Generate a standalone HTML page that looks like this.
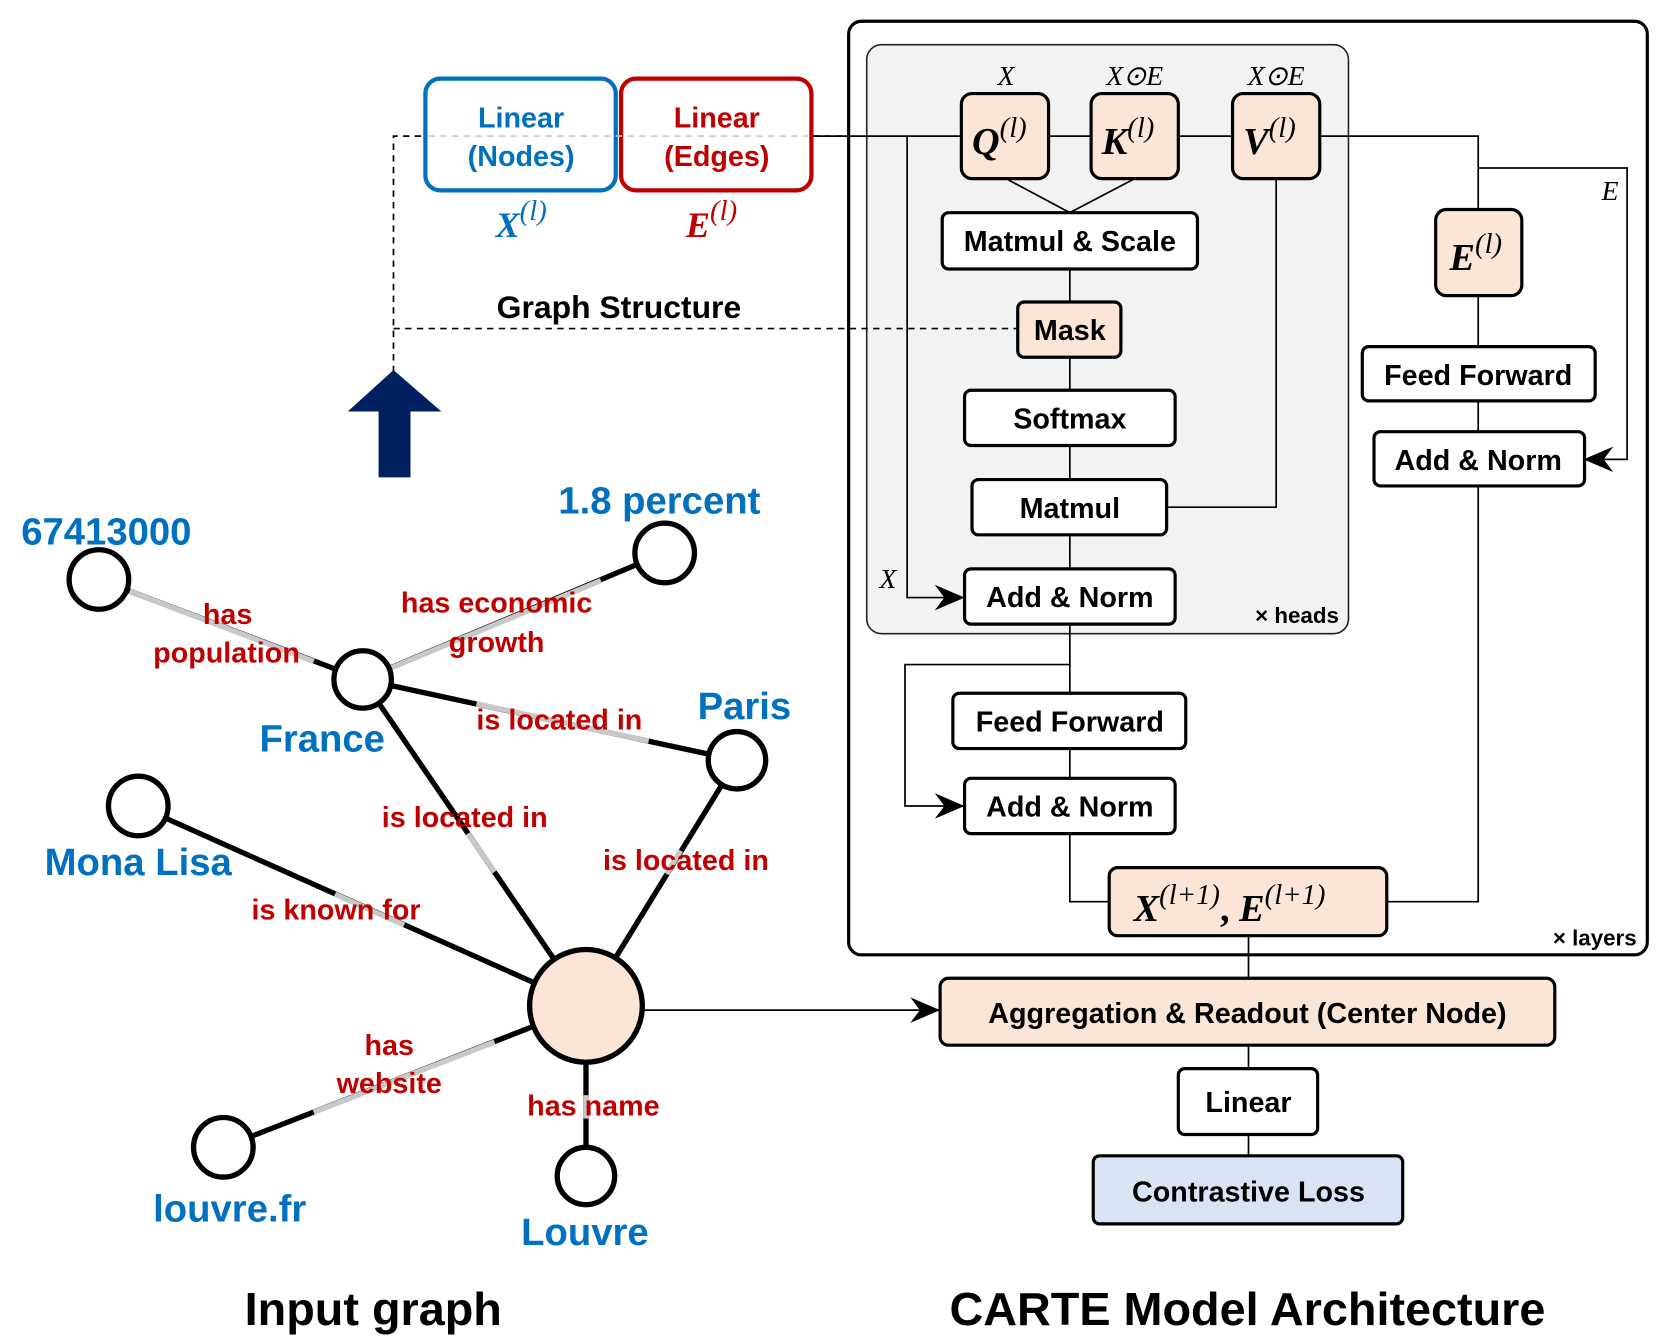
<!DOCTYPE html>
<html><head><meta charset="utf-8"><style>html,body{margin:0;padding:0;background:#fff}svg{display:block}</style></head><body>
<svg xmlns="http://www.w3.org/2000/svg" width="1659" height="1344" viewBox="0 0 1560 1264" preserveAspectRatio="none" font-family="Liberation Sans, sans-serif">
<defs>
<marker id="ar" viewBox="0 0 28 24" refX="27" refY="12" markerWidth="28" markerHeight="24" markerUnits="userSpaceOnUse" orient="auto"><path d="M0,0 L28,12 L0,24 L9,12 z" fill="#000"/></marker>
</defs>
<rect x="798" y="20" width="751" height="878" rx="12" fill="#fff" stroke="#000" stroke-width="3"/>
<rect x="815" y="42" width="453" height="554" rx="14" fill="#f2f2f2" stroke="#222" stroke-width="1.5"/>
<g stroke="#000" stroke-width="1.6" fill="none">
<line x1="764" y1="128" x2="904" y2="128"/>
<line x1="986" y1="128" x2="1026" y2="128"/>
<line x1="1108" y1="128" x2="1159" y2="128"/>
<polyline points="1241,128 1390,128 1390,197"/>
<polyline points="1390,158 1530,158 1530,432 1490,432" marker-end="url(#ar)"/>
<polyline points="853,128 853,562 906,562" marker-end="url(#ar)"/>
<polyline points="946,168 1006,200 1067,168"/>
<line x1="1006" y1="253" x2="1006" y2="535"/>
<polyline points="1200,168 1200,477 1097,477"/>
<line x1="1006" y1="587" x2="1006" y2="652"/>
<polyline points="1006,625 851,625 851,758 906,758" marker-end="url(#ar)"/>
<line x1="1006" y1="704" x2="1006" y2="732"/>
<polyline points="1006,784 1006,848 1043,848"/>
<polyline points="1304,848 1390,848 1390,457"/>
<line x1="1390" y1="278" x2="1390" y2="406"/>
<line x1="1174" y1="880" x2="1174" y2="920"/>
<line x1="1174" y1="983" x2="1174" y2="1087"/>
<line x1="605" y1="950" x2="883" y2="950" marker-end="url(#ar)"/>
</g>
<g stroke="#000" stroke-width="1.6" fill="none" stroke-dasharray="6,5">
<polyline points="370,350 370,128 400,128"/>
<line x1="764" y1="128" x2="800" y2="128"/>
<polyline points="370,309 957,309"/>
</g>
<line x1="580" y1="128" x2="584" y2="128" stroke="#000" stroke-width="1.6"/>
<rect x="400" y="74" width="179" height="105" rx="14" fill="#fff" stroke="#0070c0" stroke-width="4"/>
<rect x="584" y="74" width="179" height="105" rx="14" fill="#fff" stroke="#c00000" stroke-width="4"/>
<line x1="403" y1="128" x2="760" y2="128" stroke="#c8c8c8" stroke-width="1.5" stroke-dasharray="6,5"/>
<g font-weight="bold" font-size="27" text-anchor="middle">
<text x="490" y="120" fill="#0070c0">Linear</text>
<text x="490" y="156" fill="#0070c0">(Nodes)</text>
<text x="674" y="120" fill="#c00000">Linear</text>
<text x="674" y="156" fill="#c00000">(Edges)</text>
</g>
<text x="466" y="223" font-family="Liberation Serif, serif" font-style="italic" font-weight="bold" font-size="34" fill="#0070c0">X<tspan font-size="27" dy="-16" font-weight="normal">(l)</tspan></text>
<text x="645" y="223" font-family="Liberation Serif, serif" font-style="italic" font-weight="bold" font-size="34" fill="#c00000">E<tspan font-size="27" dy="-16" font-weight="normal">(l)</tspan></text>
<text x="582" y="299" font-weight="bold" font-size="30" text-anchor="middle">Graph Structure</text>
<polygon points="370,348 415,387 386,387 386,449 356,449 356,387 327,387" fill="#002060"/>
<g stroke="#000" stroke-width="3">
<rect x="904" y="88" width="82" height="80" rx="10" fill="#fbe5d6"/>
<rect x="1026" y="88" width="82" height="80" rx="10" fill="#fbe5d6"/>
<rect x="1159" y="88" width="82" height="80" rx="10" fill="#fbe5d6"/>
<rect x="886" y="200" width="240" height="53" rx="6" fill="#fff"/>
<rect x="957" y="284" width="97" height="52" rx="6" fill="#fbe5d6"/>
<rect x="907" y="367" width="198" height="52" rx="6" fill="#fff"/>
<rect x="914" y="451" width="183" height="52" rx="6" fill="#fff"/>
<rect x="907" y="535" width="198" height="52" rx="6" fill="#fff"/>
<rect x="896" y="652" width="219" height="52" rx="6" fill="#fff"/>
<rect x="907" y="732" width="198" height="52" rx="6" fill="#fff"/>
<rect x="1043" y="816" width="261" height="64" rx="8" fill="#fbe5d6"/>
<rect x="1350" y="197" width="81" height="81" rx="10" fill="#fbe5d6"/>
<rect x="1281" y="326" width="219" height="51" rx="6" fill="#fff"/>
<rect x="1292" y="406" width="198" height="51" rx="6" fill="#fff"/>
<rect x="884" y="920" width="578" height="63" rx="8" fill="#fbe5d6"/>
<rect x="1108" y="1005" width="131" height="62" rx="6" fill="#fff"/>
<rect x="1028" y="1087" width="291" height="64" rx="6" fill="#dae3f3"/>
</g>
<g font-family="Liberation Serif, serif" font-style="italic" font-weight="bold" font-size="36">
<text x="914" y="145">Q<tspan font-size="27" dy="-16" font-weight="normal">(l)</tspan></text>
<text x="1036" y="145">K<tspan font-size="27" dy="-16" font-weight="normal">(l)</tspan></text>
<text x="1169" y="145">V<tspan font-size="27" dy="-16" font-weight="normal">(l)</tspan></text>
<text x="1363" y="254">E<tspan font-size="27" dy="-16" font-weight="normal">(l)</tspan></text>
<text x="1066" y="866">X<tspan font-size="27" dy="-16" font-weight="normal">(l+1)</tspan><tspan dy="16" font-style="normal">, </tspan>E<tspan font-size="27" dy="-16" font-weight="normal">(l+1)</tspan></text>
</g>
<g font-family="Liberation Serif, serif" font-style="italic" font-size="26" text-anchor="middle">
<text x="946" y="80">X</text>
<text x="1067" y="80">X⊙E</text>
<text x="1200" y="80">X⊙E</text>
<text x="1514" y="188">E</text>
<text x="835" y="553">X</text>
</g>
<g font-weight="bold" font-size="27" text-anchor="middle">
<text x="1006" y="236">Matmul &amp; Scale</text>
<text x="1006" y="320">Mask</text>
<text x="1006" y="403">Softmax</text>
<text x="1006" y="487">Matmul</text>
<text x="1006" y="571">Add &amp; Norm</text>
<text x="1006" y="688">Feed Forward</text>
<text x="1006" y="768">Add &amp; Norm</text>
<text x="1390" y="362">Feed Forward</text>
<text x="1390" y="442">Add &amp; Norm</text>
<text x="1173" y="962">Aggregation &amp; Readout (Center Node)</text>
<text x="1174" y="1046">Linear</text>
<text x="1174" y="1130">Contrastive Loss</text>
</g>
<text x="1259" y="586" font-weight="bold" font-size="21" text-anchor="end">× heads</text>
<text x="1539" y="889" font-weight="bold" font-size="21" text-anchor="end">× layers</text>
<g stroke-width="5" fill="none">
<line x1="93" y1="545" x2="341" y2="639" stroke="#000"/>
<line x1="122" y1="556" x2="295" y2="622" stroke="#c8c8c8"/>
<line x1="341" y1="639" x2="625" y2="520" stroke="#000"/>
<line x1="368" y1="628" x2="565" y2="546" stroke="#c8c8c8"/>
<line x1="341" y1="639" x2="693" y2="715" stroke="#000"/>
<line x1="448" y1="662" x2="610" y2="697" stroke="#c8c8c8"/>
<line x1="341" y1="639" x2="551" y2="946" stroke="#000"/>
<line x1="440" y1="784" x2="465" y2="820" stroke="#c8c8c8"/>
<line x1="693" y1="715" x2="551" y2="946" stroke="#000"/>
<line x1="627" y1="822" x2="640" y2="800" stroke="#c8c8c8"/>
<line x1="130" y1="758" x2="551" y2="946" stroke="#000"/>
<line x1="315" y1="841" x2="380" y2="870" stroke="#c8c8c8"/>
<line x1="210" y1="1079" x2="551" y2="946" stroke="#000"/>
<line x1="295" y1="1046" x2="465" y2="980" stroke="#c8c8c8"/>
<line x1="551" y1="946" x2="551" y2="1106" stroke="#000"/>
<line x1="551" y1="1030" x2="551" y2="1052" stroke="#c8c8c8"/>
</g>
<g stroke="#000" stroke-width="5" fill="#fff">
<circle cx="93" cy="545" r="28"/>
<circle cx="341" cy="639" r="27"/>
<circle cx="625" cy="520" r="28"/>
<circle cx="693" cy="715" r="27"/>
<circle cx="130" cy="758" r="28"/>
<circle cx="210" cy="1079" r="28"/>
<circle cx="551" cy="1106" r="27"/>
<circle cx="551" cy="946" r="53" fill="#fbe5d6"/>
</g>
<g font-weight="bold" font-size="36" fill="#0070c0" text-anchor="middle">
<text x="100" y="512">67413000</text>
<text x="620" y="483">1.8 percent</text>
<text x="303" y="707">France</text>
<text x="700" y="676">Paris</text>
<text x="130" y="823">Mona Lisa</text>
<text x="216" y="1149">louvre.fr</text>
<text x="550" y="1171">Louvre</text>
</g>
<g font-weight="bold" font-size="27" fill="#c00000" text-anchor="middle">
<text x="214" y="587">has</text>
<text x="213" y="623">population</text>
<text x="467" y="576">has economic</text>
<text x="467" y="613">growth</text>
<text x="526" y="686">is located in</text>
<text x="437" y="778">is located in</text>
<text x="645" y="818">is located in</text>
<text x="316" y="865">is known for</text>
<text x="366" y="992">has</text>
<text x="366" y="1028">website</text>
<text x="558" y="1049">has name</text>
</g>
<g font-weight="bold" font-size="44" text-anchor="middle">
<text x="351" y="1246">Input graph</text>
<text x="1173" y="1246">CARTE Model Architecture</text>
</g>
</svg>
</body></html>
